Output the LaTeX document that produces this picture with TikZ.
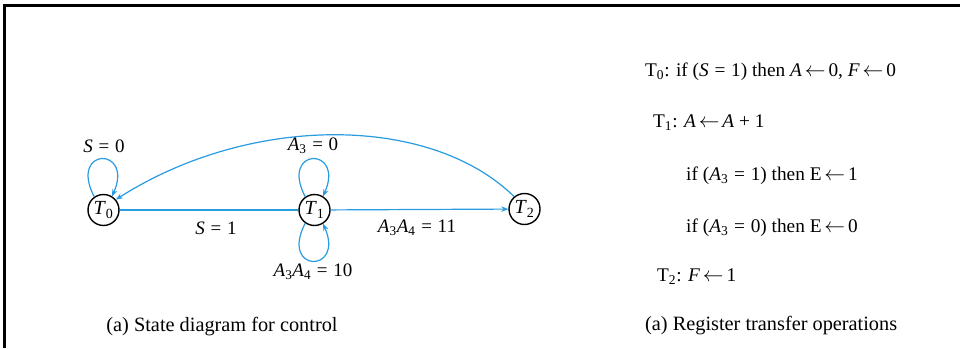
\documentclass[tikz,border=0pt]{standalone}
\usepackage{fontspec}
\setmainfont{Liberation Serif}
\usetikzlibrary{arrows.meta}
\definecolor{edgeblue}{RGB}{40,155,225}
\newcommand\itl[1]{\textit{#1}}
\newcommand\myeq{\hspace{0.3em}=\hspace{0.3em}}
\newcommand\larr{\hspace{0.15em}$\leftarrow$\hspace{0.15em}}
\begin{document}
\begin{tikzpicture}[x=1pt,y=-1pt,
 state/.style={circle,draw=black,line width=1.4pt,minimum size=31pt,inner sep=0pt,font=\fontsize{20}{22}\selectfont},
 arr/.style={draw=edgeblue,line width=1.2pt,-{Stealth[length=7pt,width=5.5pt]}},
 ln/.style={draw=edgeblue,line width=1.2pt},
 lbl/.style={font=\fontsize{19}{22}\selectfont,inner sep=0pt},
 rt/.style={anchor=west,font=\fontsize{19.3}{22}\selectfont,inner sep=0pt},
 capt/.style={font=\fontsize{20.3}{24}\selectfont,inner sep=0pt}]
\useasboundingbox (0,0) rectangle (960,348);
\draw[line width=3pt] (4.5,348) -- (4.5,5.5) -- (960,5.5);
% states
\node[state] (T0) at (103.5,210) {\itl{T}\textsubscript{0}};
\node[state] (T1) at (314.5,210) {\itl{T}\textsubscript{1}};
\node[state] (T2) at (524.5,209) {\itl{T}\textsubscript{2}};
% edges
\draw[ln] (T0) -- (T1);
\draw[arr] (T1) -- (T2);
\draw[arr] (T2.130) .. controls (430,114) and (250,114) .. (T0.40);
\draw[arr] (T0.125) .. controls +(-26,-50) and +(22,-50) .. (T0.58);
\draw[arr] (T1.125) .. controls +(-26,-50) and +(22,-50) .. (T1.58);
\draw[arr] (T1.235) .. controls +(-26,50) and +(22,50) .. (T1.-58);
% labels
\node[lbl] (l0) at (104,146) {\itl{S}\myeq 0};
\node[lbl] (l1) at (313,146) {\itl{A}\textsubscript{3}\myeq 0};
\node[lbl] (l2) at (216,228) {\itl{S}\myeq 1};
\node[lbl] (l3) at (313,272) {\itl{A}\textsubscript{3}\itl{A}\textsubscript{4}\myeq 10};
\node[lbl] (l4) at (417,228) {\itl{A}\textsubscript{3}\itl{A}\textsubscript{4}\myeq 11};
\node[capt] (c1) at (222,327) {(a) State diagram for control};
% right side
\node[rt] (r0) at (645,72) {T\textsubscript{0}: if (\itl{S}\myeq 1) then \itl{A}\larr 0, \itl{F}\larr 0};
\node[rt] (r1) at (653,123) {T\textsubscript{1}: \itl{A}\larr\itl{A} + 1};
\node[rt] (r2) at (686,176) {if (\itl{A}\textsubscript{3}\myeq 1) then E\larr 1};
\node[rt] (r3) at (686,228) {if (\itl{A}\textsubscript{3}\myeq 0) then E\larr 0};
\node[rt] (r4) at (657,277) {T\textsubscript{2}: \itl{F}\larr 1};
\node[capt,anchor=west] (c2) at (645,326) {(a) Register transfer operations};
\end{tikzpicture}
\end{document}
